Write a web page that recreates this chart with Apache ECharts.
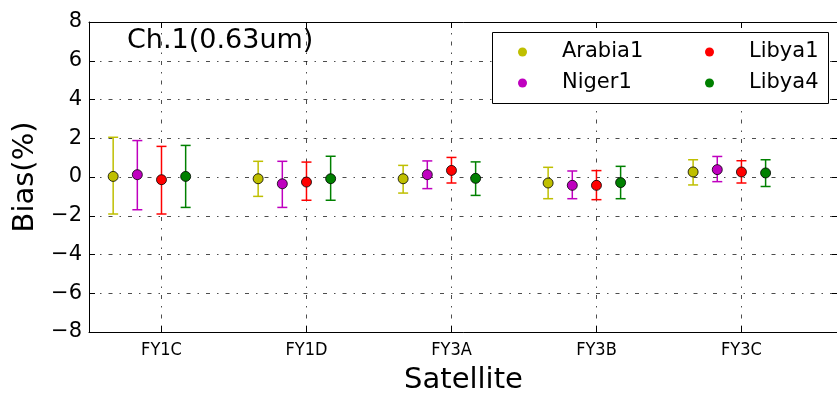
<!DOCTYPE html>
<html>
<head>
<meta charset="utf-8">
<script src="https://cdn.jsdelivr.net/npm/echarts@6/dist/echarts.min.js"></script>
<style>
  html, body { margin: 0; padding: 0; background: #fff; }
  #chart { width: 837px; height: 394px; }
</style>
</head>
<body>
<div id="chart"></div>
<script>
// satellites on the x axis
const categories = ['FY1C', 'FY1D', 'FY3A', 'FY3B', 'FY3C']
const yTicks = [-8, -6, -4, -2, 0, 2, 4, 6, 8]

// bias (%) per site: mean, lower and upper end of the error bar
const arabia1Mean = [0.03, -0.09, -0.09, -0.31, 0.26]
const arabia1Low = [-1.91, -1.0, -0.83, -1.12, -0.41]
const arabia1High = [2.05, 0.81, 0.6, 0.5, 0.89]

const niger1Mean = [0.12, -0.35, 0.12, -0.43, 0.38]
const niger1Low = [-1.69, -1.57, -0.6, -1.12, -0.24]
const niger1High = [1.88, 0.81, 0.83, 0.31, 1.06]

const libya1Mean = [-0.14, -0.26, 0.34, -0.43, 0.26]
const libya1Low = [-1.91, -1.2, -0.31, -1.17, -0.31]
const libya1High = [1.58, 0.77, 1.01, 0.33, 0.84]

const libya4Mean = [0.03, -0.09, -0.07, -0.29, 0.21]
const libya4Low = [-1.57, -1.2, -0.95, -1.12, -0.49]
const libya4High = [1.63, 1.07, 0.78, 0.55, 0.89]

const sites = [
  { name: 'Arabia1', mean: arabia1Mean, low: arabia1Low, high: arabia1High, color: '#bfbf00' },
  { name: 'Niger1', mean: niger1Mean, low: niger1Low, high: niger1High, color: '#bf00bf' },
  { name: 'Libya1', mean: libya1Mean, low: libya1Low, high: libya1High, color: '#ff0000' },
  { name: 'Libya4', mean: libya4Mean, low: libya4Low, high: libya4High, color: '#008000' },
]

// horizontal shift of each site inside a satellite group
const dodge = [-1 / 3, -1 / 6, 0, 1 / 6]
const catIdx = categories.map((c, i) => i)
const font = 'DejaVu Sans'
const gridLine = { show: true, lineStyle: { color: '#000', width: 0.7, type: [4, 7, 1.5, 7] } }
const frame = { show: true, onZero: false, lineStyle: { color: '#000', width: 1 } }

const chart = echarts.init(document.getElementById('chart'))

const scatterSeries = sites.map((s, k) => ({
  name: s.name,
  type: 'scatter',
  z: 5,
  symbol: 'circle',
  symbolSize: 10,
  itemStyle: { color: s.color, borderColor: '#000', borderWidth: 0.8, opacity: 1 },
  emphasis: { disabled: true },
  data: s.mean.map((v, i) => [i + dodge[k], v]),
}))

const errorSeries = sites.map((s, k) => ({
  name: s.name,
  type: 'custom',
  z: 3,
  encode: { x: 0, y: [1, 2] },
  data: s.mean.map((v, i) => [i + dodge[k], s.low[i], s.high[i]]),
  renderItem: (params, api) => {
    const x = api.value(0)
    const lo = api.coord([x, api.value(1)])
    const hi = api.coord([x, api.value(2)])
    const cap = 5
    const style = { stroke: s.color, lineWidth: 1.5 }
    return {
      type: 'group',
      children: [
        { type: 'line', shape: { x1: lo[0], y1: lo[1], x2: hi[0], y2: hi[1] }, style },
        { type: 'line', shape: { x1: lo[0] - cap, y1: lo[1], x2: lo[0] + cap, y2: lo[1] }, style },
        { type: 'line', shape: { x1: hi[0] - cap, y1: hi[1], x2: hi[0] + cap, y2: hi[1] }, style },
      ],
    }
  },
}))

const legendText = {
  fontFamily: font,
  fontSize: 21,
  color: '#000',
  lineHeight: 24,
  padding: [0, 0, 0, 30],
}

chart.setOption({
  animation: false,
  backgroundColor: '#fff',
  title: {
    text: 'Ch.1(0.63um)',
    left: 127,
    top: 27,
    padding: 0,
    textStyle: { fontFamily: font, fontSize: 27, fontWeight: 'normal', color: '#000' },
  },
  grid: { left: 89, right: -1, top: 22, bottom: 62, containLabel: false, outerBoundsMode: 'none' },
  legend: [
    {
      orient: 'vertical',
      left: 518,
      top: 40,
      padding: 0,
      itemGap: 7,
      itemWidth: 9,
      itemHeight: 9,
      icon: 'circle',
      z: 20,
      itemStyle: { borderWidth: 0 },
      textStyle: legendText,
      data: ['Arabia1', 'Niger1'],
    },
    {
      orient: 'vertical',
      left: 705,
      top: 40,
      padding: 0,
      itemGap: 7,
      itemWidth: 9,
      itemHeight: 9,
      icon: 'circle',
      z: 20,
      itemStyle: { borderWidth: 0 },
      textStyle: legendText,
      data: ['Libya1', 'Libya4'],
    },
  ],
  graphic: {
    elements: [
      {
        type: 'rect',
        left: 492,
        top: 32,
        z: 15,
        shape: { width: 336, height: 71 },
        style: { fill: '#fff', stroke: '#000', lineWidth: 1 },
      },
    ],
  },
  xAxis: [
    {
      type: 'value',
      position: 'bottom',
      min: -0.5,
      max: 4.666,
      axisLine: frame,
      axisTick: { show: true, inside: true, length: 6, customValues: catIdx, lineStyle: { color: '#000' } },
      axisLabel: {
        customValues: catIdx,
        margin: 9,
        fontFamily: 'DejaVu Sans Condensed',
        fontSize: 18,
        color: '#000',
        formatter: (v) => categories[Math.round(v)],
      },
      splitLine: Object.assign({ customValues: catIdx }, gridLine),
      name: 'Satellite',
      nameLocation: 'middle',
      nameGap: 34,
      nameTextStyle: { fontFamily: font, fontSize: 29, color: '#000' },
    },
    {
      type: 'value',
      position: 'top',
      min: -0.5,
      max: 4.666,
      axisLine: frame,
      axisTick: { show: true, inside: true, length: 6, customValues: catIdx, lineStyle: { color: '#000' } },
      axisLabel: { show: false },
      splitLine: { show: false },
    },
  ],
  yAxis: [
    {
      type: 'value',
      position: 'left',
      min: -8,
      max: 8,
      interval: 2,
      axisLine: frame,
      axisTick: { show: true, inside: true, length: 6, lineStyle: { color: '#000' } },
      axisLabel: {
        margin: 7,
        fontFamily: font,
        fontSize: 21,
        color: '#000',
        formatter: (v) => (v < 0 ? '\u2212' + Math.abs(v) : String(v)),
      },
      splitLine: gridLine,
      name: 'Bias(%)',
      nameLocation: 'middle',
      nameGap: 43,
      nameTextStyle: { fontFamily: font, fontSize: 29, color: '#000' },
    },
    {
      type: 'value',
      position: 'right',
      min: -8,
      max: 8,
      interval: 2,
      axisLine: frame,
      axisTick: { show: true, inside: true, length: 6, lineStyle: { color: '#000' } },
      axisLabel: { show: false },
      splitLine: { show: false },
    },
  ],
  series: [...scatterSeries, ...errorSeries],
})
</script>
</body>
</html>
